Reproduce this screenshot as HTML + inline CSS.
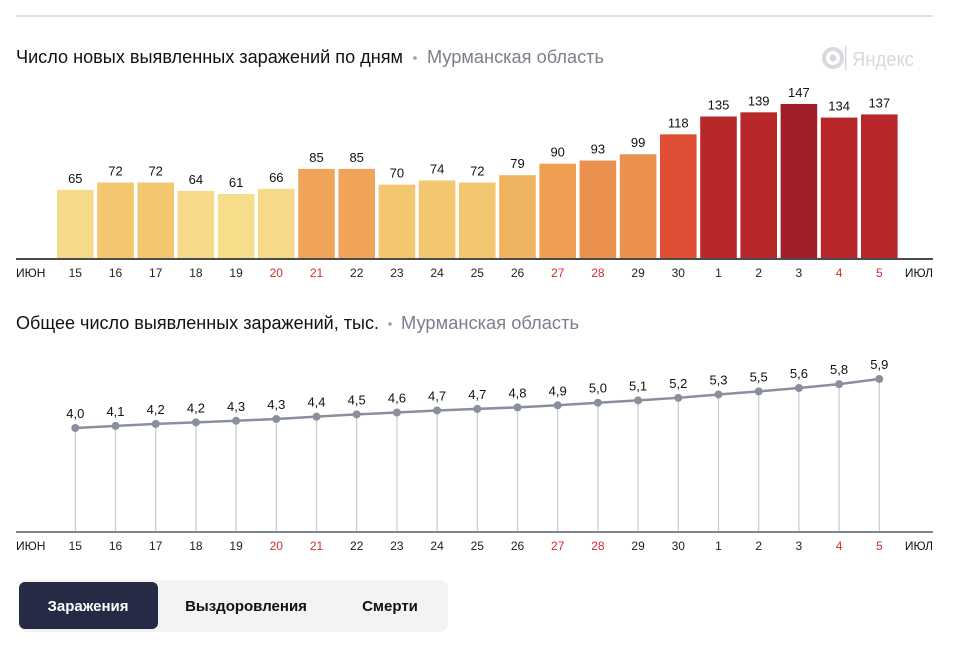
<!DOCTYPE html>
<html><head><meta charset="utf-8"><style>
body{margin:0;background:#fff;width:960px;height:640px;overflow:hidden;font-family:"Liberation Sans","DejaVu Sans",sans-serif}
</style></head><body>
<svg width="960" height="640" xmlns="http://www.w3.org/2000/svg" font-family="Liberation Sans, DejaVu Sans, sans-serif">
<line x1="16" y1="16" x2="933" y2="16" stroke="#d6d7db" stroke-width="1.5"/>
<text x="16" y="63" font-size="18" fill="#111" textLength="387" lengthAdjust="spacingAndGlyphs">Число новых выявленных заражений по дням</text>
<circle cx="415" cy="58" r="1.8" fill="#9a9ca6"/>
<text x="427" y="63" font-size="18" fill="#7b7f8c" textLength="177" lengthAdjust="spacingAndGlyphs">Мурманская область</text>
<g fill="#d8d9de"><circle cx="833" cy="58" r="9" fill="none" stroke="#d8d9de" stroke-width="4"/><circle cx="833" cy="58" r="3.5"/><rect x="845" y="46" width="1.5" height="24"/></g>
<text x="852" y="66" font-size="20" fill="#d8d9de" textLength="62" lengthAdjust="spacingAndGlyphs">Яндекс</text>
<g id="bars"></g>
<line x1="16" y1="259" x2="933" y2="259" stroke="#111" stroke-width="1.5"/>
<text x="16" y="329" font-size="18" fill="#111" textLength="363" lengthAdjust="spacingAndGlyphs">Общее число выявленных заражений, тыс.</text>
<circle cx="390" cy="324" r="1.8" fill="#9a9ca6"/>
<text x="401" y="329" font-size="18" fill="#7b7f8c" textLength="178" lengthAdjust="spacingAndGlyphs">Мурманская область</text>
<g id="line"></g>
<line x1="16" y1="532" x2="933" y2="532" stroke="#555a66" stroke-width="1.5"/>
<rect x="19" y="580" width="429" height="52" rx="8" fill="#f3f3f4"/>
<rect x="19" y="582" width="139" height="47" rx="6" fill="#262a45"/>
<text x="88" y="611" font-size="15" font-weight="bold" fill="#fff" text-anchor="middle">Заражения</text>
<text x="246" y="611" font-size="15" font-weight="bold" fill="#111" text-anchor="middle">Выздоровления</text>
<text x="390" y="611" font-size="15" font-weight="bold" fill="#111" text-anchor="middle">Смерти</text>
</svg>
<script>
const NS="http://www.w3.org/2000/svg";
const v=[65,72,72,64,61,66,85,85,70,74,72,79,90,93,99,118,135,139,147,134,137];
const c=["#f7d98a","#f3c670","#f3c670","#f7d98a","#f7dc8a","#f7d98a","#f0a45a","#f0a45a","#f3c670","#f3c670","#f3c670","#f0b460","#ee9f52","#ea924d","#eb914f","#e04f35","#b8282b","#b8282b","#a01f2b","#b8282b","#b8282b"];
const d=["15","16","17","18","19","20","21","22","23","24","25","26","27","28","29","30","1","2","3","4","5"];
const red=[5,6,12,13,19,20];
const tot=["4,0","4,1","4,2","4,2","4,3","4,3","4,4","4,5","4,6","4,7","4,7","4,8","4,9","5,0","5,1","5,2","5,3","5,5","5,6","5,8","5,9"];
const tv=[4.0,4.08,4.16,4.22,4.28,4.35,4.44,4.53,4.6,4.68,4.74,4.8,4.88,4.98,5.07,5.17,5.3,5.42,5.55,5.7,5.9];
const bars=document.getElementById("bars"),ln=document.getElementById("line");
function el(t,a,p,txt){const e=document.createElementNS(NS,t);for(const k in a)e.setAttribute(k,a[k]);if(txt)e.textContent=txt;p.appendChild(e);return e;}
let pts=[];
v.forEach((val,i)=>{
 const x=57+i*40.2,cx=x+18.3,h=val*1.048,top=258-h;
 el("rect",{x:x,y:top,width:36.6,height:h,fill:c[i]},bars);
 el("text",{x:cx,y:top-7,"font-size":13,"text-anchor":"middle",fill:"#111"},bars,String(val));
 const col=red.includes(i)?"#d0302c":"#222";
 el("text",{x:cx,y:277,"font-size":12,"text-anchor":"middle",fill:col},bars,d[i]);
 el("text",{x:cx,y:550,"font-size":12,"text-anchor":"middle",fill:col},bars,d[i]);
 const y=428-(tv[i]-4)*25.8;pts.push(cx+","+y);
 el("line",{x1:cx,y1:y,x2:cx,y2:531,stroke:"#c8cad2","stroke-width":1.2},ln);
 el("text",{x:cx,y:y-10,"font-size":13,"text-anchor":"middle",fill:"#111"},ln,tot[i]);
});
el("polyline",{points:pts.join(" "),fill:"none",stroke:"#8a8f9e","stroke-width":2.5},ln);
pts.forEach(p=>{const [x,y]=p.split(",");el("circle",{cx:x,cy:y,r:4,fill:"#8a8f9e"},ln);});
[["ИЮН",16,"start",277],["ИЮЛ",933,"end",277],["ИЮН",16,"start",550],["ИЮЛ",933,"end",550]].forEach(a=>el("text",{x:a[1],y:a[3],"font-size":12,"text-anchor":a[2],fill:"#111"},bars,a[0]));
</script>
</body></html>
